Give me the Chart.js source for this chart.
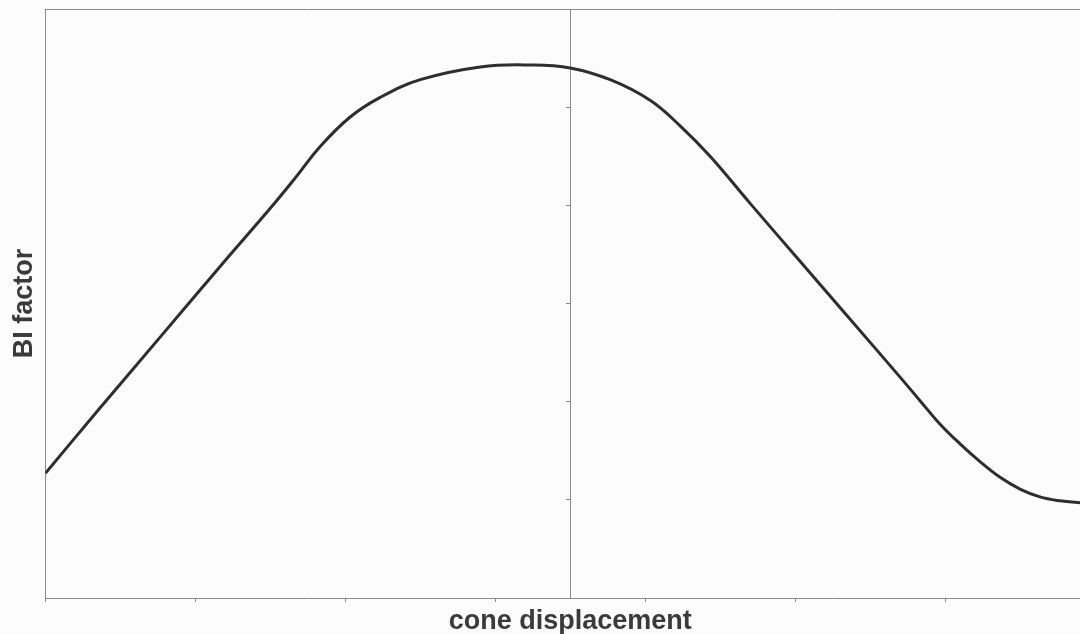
<!DOCTYPE html>
<html>
<head>
<meta charset="utf-8">
<script src="https://cdn.jsdelivr.net/npm/chart.js@4"></script>
<style>
  html, body { margin: 0; padding: 0; overflow: hidden; background: #fcfcfc; }
  #wrap { width: 1100px; height: 634px; }
</style>
</head>
<body>
<div id="wrap"><canvas id="biChart" width="1100" height="634"></canvas></div>
<script>
// values (x in displacement units, y in tick units)
const displacement = [-3.5, -3.133, -2.733, -2.333, -2.0, -1.833, -1.667, -1.467, -1.267, -1.0, -0.6, -0.267, 0,
  0.267, 0.533, 0.733, 0.933, 1.2, 1.533, 1.867, 2.2, 2.333, 2.467, 2.6, 2.733, 2.867, 3.0, 3.133, 3.267, 3.4, 3.5];
const biFactor = [1.27, 1.94, 2.66, 3.38, 3.97, 4.28, 4.60, 4.90, 5.10, 5.28, 5.41, 5.43, 5.40,
  5.28, 5.07, 4.81, 4.50, 4.02, 3.43, 2.84, 2.25, 2.01, 1.77, 1.57, 1.39, 1.23, 1.11, 1.03, 0.99, 0.97, 0.96];
const xTicks = [-3.5, -2.5, -1.5, -0.5, 0.5, 1.5, 2.5, 3.5];
const yTicks = [0, 1, 2, 3, 4, 5, 6];

const axisGrey = '#8a8a8a';
const textGrey = '#3a3a3a';
const fontFamily = 'Liberation Sans, Arial, sans-serif';

new Chart(document.getElementById('biChart'), {
  type: 'line',
  data: {
    datasets: [{
      data: displacement.map((x, i) => ({ x: x, y: biFactor[i] })),
      borderColor: '#2e2e2e',
      borderWidth: 3,
      pointRadius: 0,
      tension: 0.4,
      fill: false
    }]
  },
  options: {
    responsive: false,
    animation: false,
    layout: { padding: { left: 10, right: 5, top: 9, bottom: 0 } },
    plugins: { legend: { display: false }, tooltip: { enabled: false } },
    scales: {
      x: {
        type: 'linear',
        position: 'bottom',
        min: -3.5,
        max: 3.5,
        afterBuildTicks: s => { s.ticks = xTicks.map(v => ({ value: v })); },
        border: { color: axisGrey, width: 1 },
        grid: { drawOnChartArea: false, tickLength: 4, color: axisGrey },
        ticks: { display: false },
        title: {
          display: true,
          text: 'cone displacement',
          color: textGrey,
          font: { family: fontFamily, size: 27, weight: 'bold', lineHeight: 0.9 },
          padding: { top: 7.7, bottom: 0 }
        }
      },
      xTop: {
        type: 'linear',
        position: 'top',
        min: -3.5,
        max: 3.5,
        border: { color: axisGrey, width: 1 },
        grid: { display: false, drawTicks: false },
        ticks: { display: false }
      },
      y: {
        type: 'linear',
        position: 'left',
        min: 0,
        max: 6,
        border: { color: axisGrey, width: 1 },
        grid: { display: false, drawTicks: false },
        ticks: { display: false },
        title: {
          display: true,
          text: 'BI factor',
          color: textGrey,
          font: { family: fontFamily, size: 27, weight: 'bold', lineHeight: 1.05 },
          padding: { top: 0, bottom: 7 }
        }
      },
      yMid: {
        type: 'linear',
        position: { x: 0 },
        min: 0,
        max: 6,
        afterBuildTicks: s => { s.ticks = yTicks.map(v => ({ value: v })); },
        border: { color: axisGrey, width: 1 },
        grid: { drawOnChartArea: false, tickLength: 4, color: axisGrey },
        ticks: { display: false }
      }
    }
  }
});
</script>
</body>
</html>
